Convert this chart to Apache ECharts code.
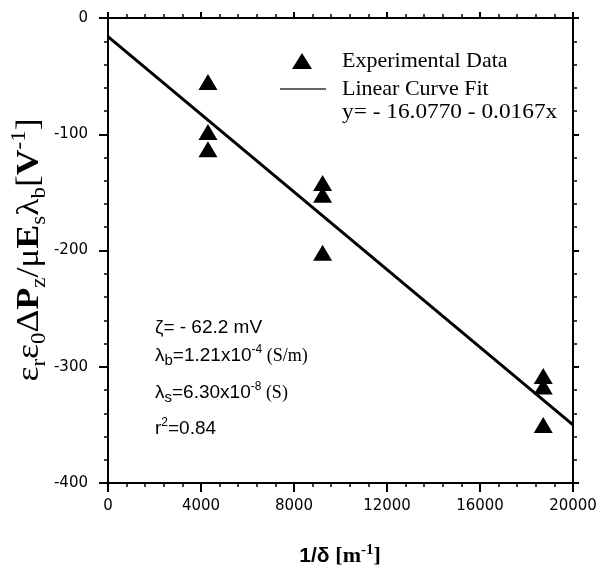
<!DOCTYPE html>
<html>
<head>
<meta charset="utf-8">
<script src="https://cdn.jsdelivr.net/npm/echarts@6/dist/echarts.min.js"></script>
<style>
html,body{margin:0;padding:0;background:#fff;}
#chart{width:609px;height:571px;}
</style>
</head>
<body>
<div id="chart"></div>
<script>
// ---- data ----
const expX = [4300, 4300, 4300, 9230, 9230, 9230, 18720, 18720, 18720];
const expY = [-55, -98, -113, -142, -152, -202, -308, -317, -350];
const fitX = [0, 20000];
const fitY = [-16.08, -350.08];
const xTicks = [0, 4000, 8000, 12000, 16000, 20000];
const yTicks = [0, -100, -200, -300, -400];
const seriesNames = ['Experimental Data', 'Linear Curve Fit'];
const equationText = 'y= - 16.0770 - 0.0167x';

const chart = echarts.init(document.getElementById('chart'), null, {renderer: 'canvas'});

const scatterData = expX.map((x, i) => [x, expY[i]]);
const fitData = fitX.map((x, i) => [x, fitY[i]]);

const axisCommon = {
  type: 'value',
  splitLine: {show: false},
  axisLine: {show: true, onZero: false, lineStyle: {color: '#000', width: 2}},
  axisTick: {show: true, inside: false, length: 9, lineStyle: {color: '#000', width: 2}},
  minorTick: {show: true, splitNumber: 5, length: 4, lineStyle: {color: '#000', width: 1.5}}
};

const serif = 'Liberation Serif';
const sans = 'Liberation Sans';
const plain = v => String(v);

const option = {
  animation: false,
  backgroundColor: '#fff',
  grid: {left: 108, right: 36, top: 18, bottom: 88},
  xAxis: [
    Object.assign({}, axisCommon, {
      position: 'bottom', min: xTicks[0], max: xTicks[xTicks.length - 1], interval: xTicks[1] - xTicks[0],
      axisLabel: {margin: 16, fontFamily: 'DejaVu Sans', fontSize: 15, color: '#000', formatter: plain}
    }),
    Object.assign({}, axisCommon, {
      position: 'top', min: xTicks[0], max: xTicks[xTicks.length - 1], interval: xTicks[1] - xTicks[0],
      axisTick: {show: true, inside: false, length: 6, lineStyle: {color: '#000', width: 2}},
      axisLabel: {show: false}
    })
  ],
  yAxis: [
    Object.assign({}, axisCommon, {
      position: 'left', min: yTicks[yTicks.length - 1], max: yTicks[0], interval: yTicks[0] - yTicks[1],
      axisLabel: {margin: 20, fontFamily: 'DejaVu Sans', fontSize: 15, color: '#000', formatter: plain}
    }),
    Object.assign({}, axisCommon, {
      position: 'right', min: yTicks[yTicks.length - 1], max: yTicks[0], interval: yTicks[0] - yTicks[1],
      axisTick: {show: true, inside: false, length: 6, lineStyle: {color: '#000', width: 2}},
      axisLabel: {show: false}
    })
  ],
  legend: [
    {
      orient: 'vertical', left: 292, top: 50, padding: 0,
      itemWidth: 20, itemHeight: 16,
      data: [{name: seriesNames[0], icon: 'triangle', itemStyle: {color: '#000', opacity: 1}}],
      textStyle: {fontFamily: serif, fontSize: 22, color: '#000', lineHeight: 16, padding: [0, 0, 0, 25]}
    },
    {
      orient: 'vertical', left: 280, top: 78, padding: 0,
      itemWidth: 46, itemHeight: 1.3,
      data: [{name: seriesNames[1], icon: 'rect', itemStyle: {color: '#333'}}],
      textStyle: {fontFamily: serif, fontSize: 22, color: '#000', lineHeight: 16, padding: [0, 0, 0, 11]}
    }
  ],
  series: [
    {
      name: seriesNames[1], type: 'line', data: fitData,
      xAxisIndex: 0, yAxisIndex: 0,
      showSymbol: false, symbol: 'none',
      itemStyle: {color: '#000'},
      lineStyle: {color: '#000', width: 3}, z: 2
    },
    {
      name: seriesNames[0], type: 'scatter', data: scatterData,
      xAxisIndex: 0, yAxisIndex: 0,
      symbol: 'triangle', symbolSize: [19, 16],
      itemStyle: {color: '#000', opacity: 1}, z: 3
    }
  ],
  graphic: [
    {
      type: 'text', x: 342, y: 112, scaleX: 1.06,
      style: {text: equationText, fontFamily: serif, fontSize: 22, fill: '#000', verticalAlign: 'middle'}
    },
    {
      type: 'text', x: 155, y: 328,
      style: {
        text: '{a|ζ= - 62.2 mV}',
        verticalAlign: 'middle',
        rich: {a: {fontFamily: sans, fontSize: 19, lineHeight: 24, fill: '#000'}}
      }
    },
    {
      type: 'text', x: 155, y: 356,
      style: {
        text: '{a|λ}{sub|b}{a|=1.21x10}{sup|-4}{t| (S/m)}',
        verticalAlign: 'middle',
        rich: {
          a: {fontFamily: sans, fontSize: 19, lineHeight: 24, fill: '#000'},
          sub: {fontFamily: sans, fontSize: 15, lineHeight: 14, verticalAlign: 'bottom', fill: '#000'},
          sup: {fontFamily: sans, fontSize: 12, lineHeight: 12, verticalAlign: 'top', fill: '#000'},
          t: {fontFamily: serif, fontSize: 18, lineHeight: 24, fill: '#000'}
        }
      }
    },
    {
      type: 'text', x: 155, y: 393,
      style: {
        text: '{a|λ}{sub|s}{a|=6.30x10}{sup|-8}{t| (S)}',
        verticalAlign: 'middle',
        rich: {
          a: {fontFamily: sans, fontSize: 19, lineHeight: 24, fill: '#000'},
          sub: {fontFamily: sans, fontSize: 15, lineHeight: 14, verticalAlign: 'bottom', fill: '#000'},
          sup: {fontFamily: sans, fontSize: 12, lineHeight: 12, verticalAlign: 'top', fill: '#000'},
          t: {fontFamily: serif, fontSize: 18, lineHeight: 24, fill: '#000'}
        }
      }
    },
    {
      type: 'text', x: 155, y: 429,
      style: {
        text: '{a|r}{sup|2}{a|=0.84}',
        verticalAlign: 'middle',
        rich: {
          a: {fontFamily: sans, fontSize: 19, lineHeight: 24, fill: '#000'},
          sup: {fontFamily: sans, fontSize: 12, lineHeight: 12, verticalAlign: 'top', fill: '#000'}
        }
      }
    },
    {
      type: 'text', x: 340, y: 556,
      style: {
        text: '{a|1/δ }{t|[m}{sup|-1}{t|]}',
        align: 'center', verticalAlign: 'middle',
        rich: {
          a: {fontFamily: sans, fontSize: 21, fontWeight: 'bold', lineHeight: 26, fill: '#000'},
          t: {fontFamily: serif, fontSize: 22, fontWeight: 'bold', lineHeight: 26, fill: '#000'},
          sup: {fontFamily: serif, fontSize: 15, fontWeight: 'bold', lineHeight: 14, verticalAlign: 'top', fill: '#000'}
        }
      }
    },
    {
      type: 'text', x: 30, y: 250, rotation: Math.PI / 2, scaleX: 1.15,
      style: {
        text: '{e|ε}{s|r}{e|ε}{s|0}{e|Δ}{b|P}{s|z}{e|/μ}{b|E}{s|s}{e|λ}{s|b}{e|[}{b|V}{p|-1}{e|]}',
        align: 'center', verticalAlign: 'middle',
        rich: {
          e: {fontFamily: serif, fontSize: 31, lineHeight: 40, fill: '#000'},
          b: {fontFamily: serif, fontSize: 31, fontWeight: 'bold', lineHeight: 40, fill: '#000'},
          s: {fontFamily: serif, fontSize: 20, lineHeight: 20, verticalAlign: 'bottom', fill: '#000'},
          p: {fontFamily: serif, fontSize: 20, lineHeight: 20, verticalAlign: 'top', fill: '#000'}
        }
      }
    }
  ]
};

chart.setOption(option);
</script>
</body>
</html>
